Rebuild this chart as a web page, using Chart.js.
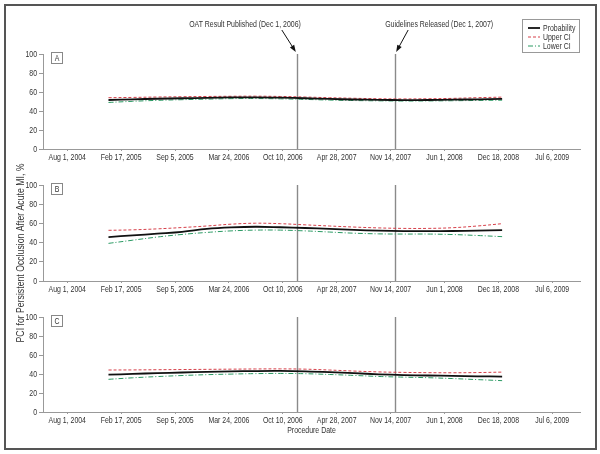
<!DOCTYPE html>
<html>
<head>
<meta charset="utf-8">
<script src="https://cdn.jsdelivr.net/npm/chart.js@4.4.1/dist/chart.umd.min.js"></script>
<style>
  html, body { margin: 0; padding: 0; background: #fff; }
  #wrap { position: relative; width: 600px; height: 454px; overflow: hidden; }
  #wrap canvas { position: absolute; left: 0; top: 0; }
  #frame { position: absolute; left: 4px; top: 4px; width: 589px; height: 442px; border: 2px solid #555; }
</style>
</head>
<body>
<div id="wrap">
  <div id="frame"></div>
  <canvas id="panel-a" width="600" height="454"></canvas>
  <canvas id="panel-b" width="600" height="454"></canvas>
  <canvas id="panel-c" width="600" height="454"></canvas>
</div>
<script>
// quarterly estimates, Jan 2005 - Jan 2009
const dates = ['2005-01-01', '2005-04-01', '2005-07-01', '2005-10-01',
  '2006-01-01', '2006-04-01', '2006-07-01', '2006-10-01',
  '2007-01-01', '2007-04-01', '2007-07-01', '2007-10-01',
  '2008-01-01', '2008-04-01', '2008-07-01', '2008-10-01', '2009-01-01'];

const tickDates = ['2004-08-01', '2005-02-17', '2005-09-05', '2006-03-24', '2006-10-10',
  '2007-04-28', '2007-11-14', '2008-06-01', '2008-12-18', '2009-07-06'];
const tickLabels = ['Aug 1, 2004', 'Feb 17, 2005', 'Sep 5, 2005', 'Mar 24, 2006', 'Oct 10, 2006',
  'Apr 28, 2007', 'Nov 14, 2007', 'Jun 1, 2008', 'Dec 18, 2008', 'Jul 6, 2009'];
const yTicks = [0, 20, 40, 60, 80, 100];

const eventDates = ['2006-12-01', '2007-12-01'];
const eventLabels = ['OAT Result Published (Dec 1, 2006)', 'Guidelines Released (Dec 1, 2007)'];

const seriesNames = ['Probability', 'Upper CI', 'Lower CI'];
const panelLabels = ['A', 'B', 'C'];

const probA  = [51.6, 52.3, 52.9, 53.4, 53.9, 54.3, 54.4, 54.0, 53.4, 52.7, 52.1, 51.7, 51.5, 51.6, 51.9, 52.3, 52.7];
const upperA = [54.0, 54.3, 54.7, 55.0, 55.3, 55.5, 55.6, 55.3, 54.7, 54.0, 53.4, 52.9, 52.7, 52.9, 53.3, 54.0, 54.6];
const lowerA = [49.0, 50.2, 51.2, 51.9, 52.5, 53.0, 53.1, 52.8, 52.2, 51.5, 51.0, 50.7, 50.5, 50.6, 50.8, 51.1, 51.4];

const probB  = [45.8, 47.5, 49.3, 51.2, 54.2, 55.8, 56.5, 56.0, 55.2, 54.3, 53.2, 52.4, 52.0, 51.9, 52.1, 52.5, 53.0];
const upperB = [52.8, 53.3, 54.3, 55.7, 57.3, 59.2, 60.2, 59.7, 58.5, 57.3, 56.2, 55.3, 54.8, 54.8, 55.5, 57.3, 59.7];
const lowerB = [39.2, 42.5, 45.8, 48.5, 50.6, 52.2, 53.0, 53.0, 52.2, 51.0, 49.8, 49.1, 48.9, 48.9, 48.4, 47.4, 46.2];

const probC  = [39.3, 40.1, 40.9, 41.6, 42.2, 42.7, 43.1, 43.2, 42.8, 42.0, 40.9, 39.7, 38.9, 38.4, 38.0, 37.6, 37.2];
const upperC = [44.2, 44.3, 44.5, 44.7, 44.9, 45.1, 45.3, 45.4, 45.1, 44.2, 43.1, 42.2, 41.7, 41.4, 41.3, 41.5, 42.0];
const lowerC = [34.4, 36.0, 37.3, 38.4, 39.3, 39.9, 40.4, 40.6, 40.3, 39.5, 38.5, 37.4, 36.7, 36.1, 35.2, 34.1, 33.0];

const DAY = 864e5;
const day = s => Date.parse(s + 'T00:00:00Z');
const xMin = day(tickDates[0]) - 90 * DAY;
const xMax = day(tickDates[tickDates.length - 1]) + 103 * DAY;

const FONT = "'Liberation Sans', Arial, sans-serif";
const FS = 9.5;
const SQUEEZE = 0.73; // the original uses a condensed face
const TEXT = '#333';
const AXIS = '#999';

Chart.defaults.font.family = FONT;
Chart.defaults.font.size = FS;
Chart.defaults.color = TEXT;

// squeeze every text horizontally, there is no condensed font installed
Chart.register({
  id: 'condense',
  beforeInit(chart) {
    const ctx = chart.ctx;
    const fill = ctx.fillText.bind(ctx);
    ctx.fillText = (text, x, y, maxWidth) => {
      let w = ctx.measureText(text).width * (ctx.squeeze || SQUEEZE);
      if (maxWidth !== undefined && maxWidth < w) w = maxWidth;
      fill(text, x, y, w);
    };
  }
});

function toPoints(values) {
  return dates.map((d, i) => ({ x: day(d), y: values[i] }));
}

// vertical lines for the two events
const eventLines = {
  id: 'eventLines',
  beforeDatasetsDraw(chart) {
    const { ctx, scales: { x, y } } = chart;
    ctx.save();
    ctx.strokeStyle = '#8a8a8a';
    ctx.lineWidth = 1.4;
    eventDates.forEach(d => {
      const px = Math.round(x.getPixelForValue(day(d))) + 0.5;
      ctx.beginPath();
      ctx.moveTo(px, y.getPixelForValue(100));
      ctx.lineTo(px, y.getPixelForValue(0));
      ctx.stroke();
    });
    ctx.restore();
  }
};

// little boxed letter in the corner of each panel
const panelTag = {
  id: 'panelTag',
  afterDraw(chart, args, opts) {
    const { ctx, chartArea } = chart;
    const bx = chartArea.left + 8.5, by = chartArea.top - 1.5;
    ctx.save();
    ctx.strokeStyle = '#888';
    ctx.lineWidth = 1;
    ctx.strokeRect(bx, by, 11, 11);
    ctx.fillStyle = TEXT;
    ctx.font = FS + 'px ' + FONT;
    ctx.textAlign = 'center';
    ctx.textBaseline = 'middle';
    ctx.fillText(opts.text, bx + 5.5, by + 6);
    ctx.restore();
  }
};

function arrow(ctx, x0, y0, x1, y1) {
  const a = Math.atan2(y1 - y0, x1 - x0);
  ctx.beginPath();
  ctx.moveTo(x0, y0);
  ctx.lineTo(x1 - 5 * Math.cos(a), y1 - 5 * Math.sin(a));
  ctx.stroke();
  ctx.beginPath();
  ctx.moveTo(x1, y1);
  ctx.lineTo(x1 - 7 * Math.cos(a) + 2.5 * Math.sin(a), y1 - 7 * Math.sin(a) - 2.5 * Math.cos(a));
  ctx.lineTo(x1 - 7 * Math.cos(a) - 2.5 * Math.sin(a), y1 - 7 * Math.sin(a) + 2.5 * Math.cos(a));
  ctx.closePath();
  ctx.fill();
}

// annotation texts + arrows and the legend box, only on the top panel
const topDecor = {
  id: 'topDecor',
  afterDraw(chart) {
    const { ctx, scales: { x, y } } = chart;
    const topY = y.getPixelForValue(100);
    ctx.save();
    ctx.font = FS + 'px ' + FONT;
    ctx.fillStyle = TEXT;
    ctx.strokeStyle = '#111';
    ctx.lineWidth = 1;
    ctx.textBaseline = 'middle';

    const x1 = x.getPixelForValue(day(eventDates[0]));
    ctx.textAlign = 'right';
    ctx.fillText(eventLabels[0], x1 + 4, 24);
    ctx.fillStyle = '#111';
    arrow(ctx, x1 - 15, 30, x1 - 1, topY - 2);

    const x2 = x.getPixelForValue(day(eventDates[1]));
    ctx.fillStyle = TEXT;
    ctx.textAlign = 'left';
    ctx.fillText(eventLabels[1], x2 - 10, 24);
    ctx.fillStyle = '#111';
    arrow(ctx, x2 + 13, 30, x2 + 1, topY - 2);

    // legend
    ctx.strokeStyle = '#999';
    ctx.lineWidth = 1;
    ctx.strokeRect(522.5, 19.5, 57, 33);
    ctx.textAlign = 'left';
    chart.data.datasets.forEach((ds, i) => {
      const ly = 28 + i * 9;
      ctx.save();
      ctx.strokeStyle = ds.borderColor;
      ctx.lineWidth = ds.borderWidth;
      ctx.setLineDash(ds.borderDash || []);
      ctx.beginPath();
      ctx.moveTo(528, ly);
      ctx.lineTo(540, ly);
      ctx.stroke();
      ctx.restore();
      ctx.fillStyle = TEXT;
      ctx.fillText(ds.label, 543, ly + 0.5);
    });
    ctx.restore();
  }
};

// shared y title, drawn on the bottom panel canvas
const yTitle = {
  id: 'yTitle',
  afterDraw(chart) {
    const { ctx } = chart;
    ctx.save();
    ctx.translate(21, 253);
    ctx.rotate(-Math.PI / 2);
    ctx.font = '10px ' + FONT;
    ctx.fillStyle = TEXT;
    ctx.textAlign = 'center';
    ctx.textBaseline = 'middle';
    ctx.squeeze = 0.87;
    ctx.fillText('PCI for Persistent Occlusion After Acute MI, %', 0, 0);
    ctx.squeeze = null;
    ctx.restore();
  }
};

function makePanel(id, idx, prob, upper, lower, padTop, padBottom, xHeight, extra) {
  const showTitle = idx === 2;
  const plugins = [eventLines, panelTag].concat(extra);
  return new Chart(document.getElementById(id), {
    type: 'line',
    data: {
      datasets: [
        { label: seriesNames[0], data: toPoints(prob), borderColor: '#111', borderWidth: 1.8, pointRadius: 0, tension: 0.4 },
        { label: seriesNames[1], data: toPoints(upper), borderColor: '#d6404a', borderWidth: 1, borderDash: [3, 2], pointRadius: 0, tension: 0.4 },
        { label: seriesNames[2], data: toPoints(lower), borderColor: '#2a9a63', borderWidth: 1, borderDash: [5, 2, 1, 2], pointRadius: 0, tension: 0.4 },
      ],
    },
    options: {
      responsive: false,
      animation: false,
      devicePixelRatio: 1,
      layout: { padding: { top: padTop, bottom: padBottom, left: 0, right: 20 } },
      plugins: {
        legend: { display: false },
        tooltip: { enabled: false },
        panelTag: { text: panelLabels[idx] },
      },
      scales: {
        x: {
          type: 'linear',
          min: xMin,
          max: xMax,
          afterBuildTicks: s => { s.ticks = tickDates.map(d => ({ value: day(d) })); },
          afterFit: s => { s.height = xHeight; },
          ticks: {
            autoSkip: false,
            maxRotation: 0,
            padding: 1,
            callback: v => tickLabels[tickDates.findIndex(d => day(d) === v)],
          },
          grid: { drawOnChartArea: false, tickLength: 2, color: AXIS },
          border: { color: AXIS },
          title: { display: showTitle, text: 'Procedure Date', padding: { top: 2, bottom: 4 } },
        },
        y: {
          min: 0,
          max: 100,
          afterBuildTicks: s => { s.ticks = yTicks.map(v => ({ value: v })); },
          afterFit: s => { s.width = 43; },
          ticks: { padding: 2 },
          grid: { drawOnChartArea: false, tickLength: 4, color: AXIS },
          border: { color: AXIS },
        },
      },
    },
    plugins,
  });
}

makePanel('panel-a', 0, probA, upperA, lowerA, 54, 284, 21, [topDecor]);
makePanel('panel-b', 1, probB, upperB, lowerB, 185, 152, 21, []);
makePanel('panel-c', 2, probC, upperC, lowerC, 317, 14, 28, [yTitle]);
</script>
</body>
</html>
